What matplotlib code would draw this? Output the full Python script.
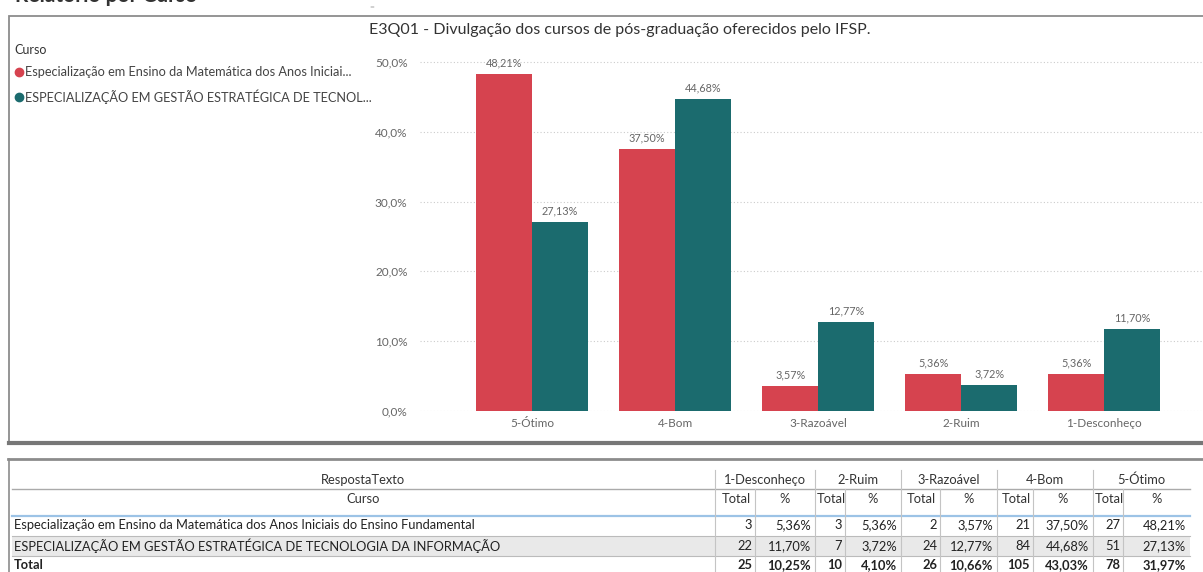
import numpy as np
import matplotlib.pyplot as plt
from matplotlib.lines import Line2D
from matplotlib.patches import Rectangle
from matplotlib.ticker import FuncFormatter

plt.rcParams['font.family'] = ['Lato', 'DejaVu Sans']

# data
categorias = ['5-Ótimo', '4-Bom', '3-Razoável', '2-Ruim', '1-Desconheço']
curso_mat = 'Especialização em Ensino da Matemática dos Anos Iniciais do Ensino Fundamental'
curso_ti = 'ESPECIALIZAÇÃO EM GESTÃO ESTRATÉGICA DE TECNOLOGIA DA INFORMAÇÃO'
legenda_mat = 'Especialização em Ensino da Matemática dos Anos Iniciai...'
legenda_ti = 'ESPECIALIZAÇÃO EM GESTÃO ESTRATÉGICA DE TECNOL...'
pct_mat = [48.21, 37.50, 3.57, 5.36, 5.36]
pct_ti = [27.13, 44.68, 12.77, 3.72, 11.70]

# table (columns in table order)
col_tabela = ['1-Desconheço', '2-Ruim', '3-Razoável', '4-Bom', '5-Ótimo']
total_mat = [3, 3, 2, 21, 27]
perc_mat = ['5,36%', '5,36%', '3,57%', '37,50%', '48,21%']
total_ti = [22, 7, 24, 84, 51]
perc_ti = ['11,70%', '3,72%', '12,77%', '44,68%', '27,13%']
total_geral = [25, 10, 26, 105, 78]
perc_geral = ['10,25%', '4,10%', '10,66%', '43,03%', '31,97%']

cor_mat = '#D6434F'
cor_ti = '#1B6B6E'
cinza = '#666666'

W, H = 1203, 572

def fx(x):
    return x / W

def fy(y):
    return 1 - y / H

fig = plt.figure(figsize=(W / 100, H / 100), dpi=100)

# page heading (cut at the top)
fig.text(fx(15), fy(-4), 'Relatório por Curso', fontsize=15, fontweight='bold',
         color='#333333', va='center', ha='left')
fig.text(fx(372), fy(7), '=', fontsize=6, color='#aaaaaa', ha='center', va='center')

# chart frame
fig.patches.append(Rectangle((fx(9), fy(444)), fx(1200), fy(16) - fy(444), transform=fig.transFigure,
                             facecolor='none', edgecolor='#8c8c8c', linewidth=1.3))
fig.lines.append(Line2D([fx(9), fx(1203)], [fy(443), fy(443)], transform=fig.transFigure,
                        color='#777777', linewidth=3))

fig.text(fx(620), fy(30), 'E3Q01 - Divulgação dos cursos de pós-graduação oferecidos pelo IFSP.',
         fontsize=11.5, color='#333333', ha='center', va='center')

# legend
fig.text(fx(14), fy(50), 'Curso', fontsize=9, color='#333333', ha='left', va='center')
fig.lines.append(Line2D([fx(19)], [fy(72)], transform=fig.transFigure, marker='o', markersize=6,
                        color=cor_mat, linestyle='none'))
fig.text(fx(25), fy(72), legenda_mat, fontsize=9.2, color='#444444', ha='left', va='center')
fig.lines.append(Line2D([fx(19)], [fy(97)], transform=fig.transFigure, marker='o', markersize=6,
                        color=cor_ti, linestyle='none'))
fig.text(fx(25), fy(97), legenda_ti, fontsize=9.2, color='#444444', ha='left', va='center')

# bar chart
ax = fig.add_axes([fx(420), fy(411), fx(1203) - fx(420), fy(48) - fy(411)])
x = np.arange(len(categorias))
w = 0.39
b1 = ax.bar(x - w / 2, pct_mat, w, color=cor_mat)
b2 = ax.bar(x + w / 2, pct_ti, w, color=cor_ti)
ax.bar_label(b1, labels=[f'{v:.2f}%'.replace('.', ',') for v in pct_mat], padding=4,
             fontsize=7.8, color=cinza)
ax.bar_label(b2, labels=[f'{v:.2f}%'.replace('.', ',') for v in pct_ti], padding=4,
             fontsize=7.8, color=cinza)
ax.set_xlim(-0.783, 4.69)
ax.set_ylim(0, 52)
ax.set_yticks([0, 10, 20, 30, 40, 50])
ax.yaxis.set_major_formatter(FuncFormatter(lambda v, p: f'{v:.1f}%'.replace('.', ',')))
ax.set_xticks(x)
ax.set_xticklabels(categorias)
ax.tick_params(axis='both', length=0, labelsize=8.5, labelcolor=cinza)
ax.tick_params(axis='y', pad=9)
ax.tick_params(axis='x', pad=5)
ax.grid(axis='y', color='#cccccc', linestyle=(0, (1, 2)), linewidth=0.8)
ax.set_axisbelow(True)
for s in ax.spines.values():
    s.set_visible(False)

# table frame
fig.lines.append(Line2D([fx(8), fx(1203)], [fy(459), fy(459)], transform=fig.transFigure,
                        color='#8c8c8c', linewidth=2))
fig.lines.append(Line2D([fx(9), fx(9)], [fy(459), fy(572)], transform=fig.transFigure,
                        color='#8c8c8c', linewidth=1.2))

sep_grupo = [715, 815, 901, 997, 1093, 1190]
sep_total = [755, 845, 940, 1033, 1123]

# row 2 background
fig.patches.append(Rectangle((fx(12), fy(556)), fx(1190) - fx(12), fy(536) - fy(556),
                             transform=fig.transFigure, facecolor='#e9e9e9', edgecolor='none'))

def hline(y, cor='#bbbbbb', lw=0.8):
    fig.lines.append(Line2D([fx(12), fx(1190)], [fy(y), fy(y)], transform=fig.transFigure,
                            color=cor, linewidth=lw))

def vline(xp, y0, y1):
    fig.lines.append(Line2D([fx(xp), fx(xp)], [fy(y0), fy(y1)], transform=fig.transFigure,
                            color='#c4c4c4', linewidth=0.8))

hline(489, '#aaaaaa', 1.0)
hline(516, '#9cc3e6', 1.6)
hline(536)
hline(556)
for xp in sep_grupo[:-1]:
    vline(xp, 470, 572)
for xp in sep_total:
    vline(xp, 489, 572)

tcor = '#333333'
fs = 9.3
fig.text(fx(363), fy(480), 'RespostaTexto', fontsize=fs, color=tcor, ha='center', va='center')
fig.text(fx(363), fy(499), 'Curso', fontsize=fs, color=tcor, ha='center', va='center')
for i, nome in enumerate(col_tabela):
    x0, x1 = sep_grupo[i], sep_grupo[i + 1]
    xm = sep_total[i]
    fig.text(fx((x0 + x1) / 2), fy(480), nome, fontsize=fs, color=tcor, ha='center', va='center')
    fig.text(fx((x0 + xm) / 2 + 1), fy(499), 'Total', fontsize=fs, color=tcor, ha='center', va='center')
    fig.text(fx((xm + x1) / 2), fy(499), '%', fontsize=fs, color=tcor, ha='center', va='center')

linhas = [(curso_mat, total_mat, perc_mat, 'normal', 525),
          (curso_ti, total_ti, perc_ti, 'normal', 546),
          ('Total', total_geral, perc_geral, 'bold', 565)]
for nome, tots, percs, peso, y in linhas:
    fig.text(fx(14), fy(y), nome, fontsize=fs, color='#222222', fontweight=peso, ha='left', va='center')
    for i in range(len(col_tabela)):
        fig.text(fx(sep_total[i] - 3), fy(y), str(tots[i]), fontsize=fs, color='#222222',
                 fontweight=peso, ha='right', va='center')
        fig.text(fx(sep_grupo[i + 1] - 4), fy(y), percs[i], fontsize=fs, color='#222222',
                 fontweight=peso, ha='right', va='center')

fig.savefig('out.png', dpi=100)
